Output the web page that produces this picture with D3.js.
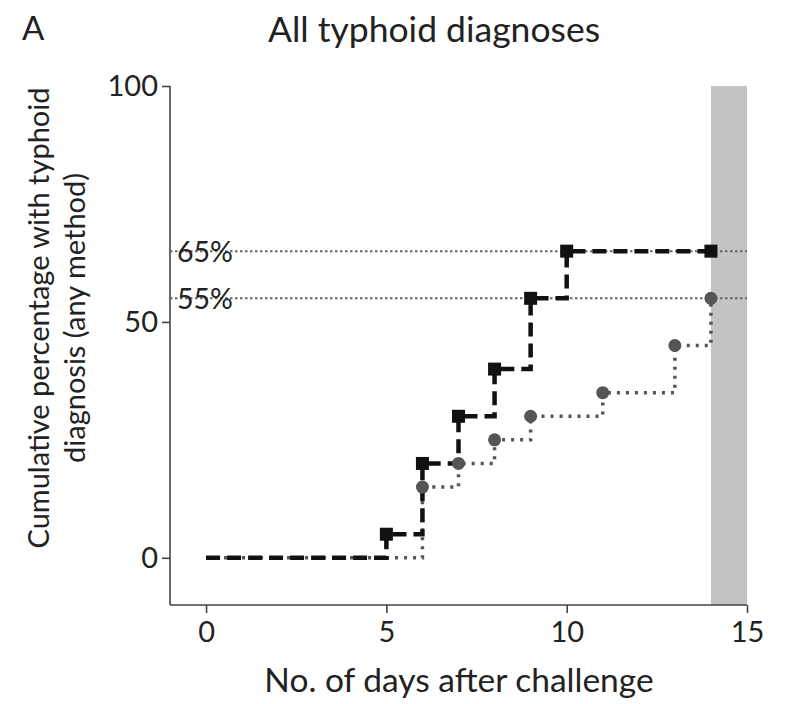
<!DOCTYPE html>
<html><head><meta charset="utf-8">
<script src="https://cdn.jsdelivr.net/npm/d3@7"></script>
<style>body{margin:0;background:#fff;} text{font-family:Lato, "Open Sans", sans-serif; fill:#222;}</style>
</head><body><svg id="c" width="785" height="704"></svg>
<script>
const xTicks = [0, 5, 10, 15];
const yTicks = [0, 50, 100];
const squareDays = [0, 5, 6, 7, 8, 9, 10, 14];
const squareVals = [0, 5, 20, 30, 40, 55, 65, 65];
const squareMarkerDays = [5, 6, 7, 8, 9, 10, 14];
const circleDays = [0, 6, 7, 8, 9, 11, 13, 14];
const circleVals = [0, 15, 20, 25, 30, 35, 45, 55];
const circleMarkerDays = [6, 7, 8, 9, 11, 13, 14];
const refLines = [65, 55];
const refLabels = ["65%", "55%"];
const shadeRange = [14, 15];

const svg = d3.select("#c");
const x = d3.scaleLinear().domain([-1, 15]).range([170, 747]);
const y = d3.scaleLinear().domain([-10, 100]).range([605, 86]);

// shaded band
svg.append("rect").attr("x", x(shadeRange[0])).attr("y", y(100))
  .attr("width", x(shadeRange[1]) - x(shadeRange[0])).attr("height", y(-10) - y(100))
  .attr("fill", "#c3c3c3");

// axes
const yAxis = svg.append("g").attr("transform", `translate(${x(-1)},0)`)
  .call(d3.axisLeft(y).tickValues(yTicks).tickSize(8).tickPadding(4));
const xAxis = svg.append("g").attr("transform", `translate(0,${y(-10)})`)
  .call(d3.axisBottom(x).tickValues(xTicks).tickSize(8).tickPadding(8));
[yAxis, xAxis].forEach(g => {
  g.select(".domain").attr("stroke", "#444").attr("stroke-width", 1.6);
  g.selectAll(".tick line").attr("stroke", "#444").attr("stroke-width", 1.6);
  g.selectAll(".tick text").attr("font-size", 29).attr("fill", "#222")
    .attr("font-family", "Lato, 'Open Sans', sans-serif");
});
yAxis.select(".domain").attr("d", `M0,${y(100)}V${y(-10)}`);
xAxis.select(".domain").attr("d", `M${x(-1)},0H${x(15)}`);

// reference lines
refLines.forEach((v, i) => {
  svg.append("line").attr("x1", x(-1)).attr("x2", x(15)).attr("y1", y(v)).attr("y2", y(v))
    .attr("stroke", "#666").attr("stroke-width", 2).attr("stroke-dasharray", "2.5,2.5");
  svg.append("text").attr("x", x(-1) + 7).attr("y", y(v) + 11).attr("font-size", 28.5)
    .text(refLabels[i]);
});

const stepLine = d3.line().x(d => x(d[0])).y(d => y(d[1])).curve(d3.curveStepAfter);

// circle series (dotted)
const cData = circleDays.map((d, i) => [d, circleVals[i]]);
svg.append("path").attr("d", stepLine(cData)).attr("fill", "none")
  .attr("stroke", "#555").attr("stroke-width", 3.5).attr("stroke-dasharray", "3,6");
// square series (dashed)
const sData = squareDays.map((d, i) => [d, squareVals[i]]);
svg.append("path").attr("d", stepLine(sData)).attr("fill", "none")
  .attr("stroke", "#111").attr("stroke-width", 4.5).attr("stroke-dasharray", "14,7");

circleMarkerDays.forEach(d => {
  const v = circleVals[circleDays.indexOf(d)];
  svg.append("circle").attr("cx", x(d)).attr("cy", y(v)).attr("r", 6.5).attr("fill", "#555");
});
squareMarkerDays.forEach(d => {
  const v = squareVals[squareDays.indexOf(d)];
  svg.append("rect").attr("x", x(d) - 6.5).attr("y", y(v) - 6.5).attr("width", 13).attr("height", 13).attr("fill", "#111");
});

// titles
svg.append("text").attr("x", 22).attr("y", 40).attr("font-size", 33).text("A");
svg.append("text").attr("x", 434).attr("y", 42).attr("font-size", 35.5).attr("text-anchor", "middle").text("All typhoid diagnoses");
svg.append("text").attr("x", 459).attr("y", 692).attr("font-size", 33.5).attr("text-anchor", "middle").text("No. of days after challenge");
const yl = svg.append("text").attr("transform", "translate(0,318) rotate(-90)").attr("text-anchor", "middle").attr("font-size", 29);
yl.append("tspan").attr("x", 0).attr("y", 49).text("Cumulative percentage with typhoid");
yl.append("tspan").attr("x", 0).attr("y", 85).text("diagnosis (any method)");
</script></body></html>
